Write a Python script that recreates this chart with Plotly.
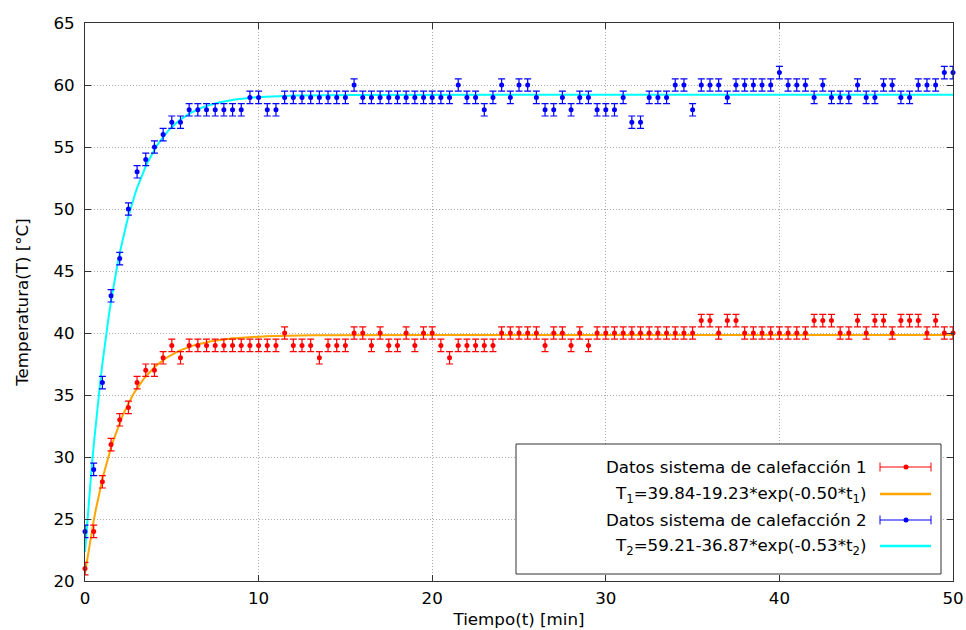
import numpy as np
import plotly.graph_objects as go

# ---------------- data ----------------
t = [i * 0.5 for i in range(101)]

temp1 = [21, 24, 28, 31, 33, 34, 36, 37, 37, 38,
         39, 38, 39, 39, 39, 39, 39, 39, 39, 39,
         39, 39, 39, 40, 39, 39, 39, 38, 39, 39,
         39, 40, 40, 39, 40, 39, 39, 40, 39, 40,
         40, 39, 38, 39, 39, 39, 39, 39, 40, 40,
         40, 40, 40, 39, 40, 40, 39, 40, 39, 40,
         40, 40, 40, 40, 40, 40, 40, 40, 40, 40,
         40, 41, 41, 40, 41, 41, 40, 40, 40, 40,
         40, 40, 40, 40, 41, 41, 41, 40, 40, 41,
         40, 41, 41, 40, 41, 41, 41, 40, 41, 40,
         40]

temp2 = [24, 29, 36, 43, 46, 50, 53, 54, 55, 56,
         57, 57, 58, 58, 58, 58, 58, 58, 58, 59,
         59, 58, 58, 59, 59, 59, 59, 59, 59, 59,
         59, 60, 59, 59, 59, 59, 59, 59, 59, 59,
         59, 59, 59, 60, 59, 59, 58, 59, 60, 59,
         60, 60, 59, 58, 58, 59, 58, 59, 59, 58,
         58, 58, 59, 57, 57, 59, 59, 59, 60, 60,
         58, 60, 60, 60, 59, 60, 60, 60, 60, 60,
         61, 60, 60, 60, 59, 60, 59, 59, 59, 60,
         59, 59, 60, 60, 59, 59, 60, 60, 60, 61,
         61]

err = 0.5

# fitted parameters shown in the legend
fit1 = (39.84, 19.23, 0.50)
fit2 = (59.21, 36.87, 0.53)

x_ticks = [0, 10, 20, 30, 40, 50]
y_ticks = [20, 25, 30, 35, 40, 45, 50, 55, 60, 65]

names = ["Datos sistema de calefacción 1",
         "T<sub>1</sub>=39.84-19.23*exp(-0.50*t<sub>1</sub>)",
         "Datos sistema de calefacción 2",
         "T<sub>2</sub>=59.21-36.87*exp(-0.53*t<sub>2</sub>)"]

# ---------------- figure ----------------
FONT = "DejaVu Sans"
FS = 16.7
tf = np.linspace(0, 50, 400)

fig = go.Figure()

def fit_curve(p):
    a, b, k = p
    return a - b * np.exp(-k * tf)

fig.add_trace(go.Scatter(x=tf, y=fit_curve(fit1), mode="lines",
                         line=dict(color="#ffa500", width=2), name=names[1],
                         showlegend=False))
fig.add_trace(go.Scatter(x=tf, y=fit_curve(fit2), mode="lines",
                         line=dict(color="#00ffff", width=2), name=names[3],
                         showlegend=False))

for y, col, nm in [(temp1, "#ff0000", names[0]), (temp2, "#0000ff", names[2])]:
    fig.add_trace(go.Scatter(
        x=t, y=y, mode="markers", name=nm, showlegend=False,
        marker=dict(color=col, size=5, symbol="circle"),
        error_y=dict(type="constant", value=err, color=col, thickness=1.2, width=3.5),
        cliponaxis=False))

# ---------------- custom gnuplot-like key ----------------
L, R, T, B = 85, 953, 23, 581

def px2paper_x(px):
    return (px - L) / (R - L)

def py2paper_y(py):
    return (B - py) / (B - T)

shapes = []
annotations = []
shapes.append(dict(type="rect", xref="paper", yref="paper",
                   x0=px2paper_x(516), x1=px2paper_x(941),
                   y0=py2paper_y(574), y1=py2paper_y(444),
                   line=dict(color="#333333", width=1), fillcolor="white", layer="above"))

rows = [467, 494, 520, 546]
row_cols = ["#ff0000", "#ffa500", "#0000ff", "#00ffff"]
sx0, sx1, sxm = px2paper_x(880), px2paper_x(931), px2paper_x(906)
for i, (ry, c) in enumerate(zip(rows, row_cols)):
    yy = py2paper_y(ry)
    annotations.append(dict(text=names[i], xref="paper", yref="paper",
                            x=px2paper_x(869), y=yy, xanchor="right", yanchor="middle",
                            showarrow=False, font=dict(family=FONT, size=FS, color="black")))
    if i in (0, 2):
        shapes.append(dict(type="line", xref="paper", yref="paper", x0=sx0, x1=sx1,
                           y0=yy, y1=yy, line=dict(color=c, width=1), layer="above"))
        for xx in (sx0, sx1):
            shapes.append(dict(type="line", xref="paper", yref="paper", x0=xx, x1=xx,
                               y0=yy - 0.008, y1=yy + 0.008,
                               line=dict(color=c, width=1), layer="above"))
        dy = 2.5 / (B - T)
        dx = 2.5 / (R - L)
        shapes.append(dict(type="circle", xref="paper", yref="paper",
                           x0=sxm - dx, x1=sxm + dx, y0=yy - dy, y1=yy + dy,
                           line=dict(color=c, width=0), fillcolor=c, layer="above"))
    else:
        shapes.append(dict(type="line", xref="paper", yref="paper", x0=sx0, x1=sx1,
                           y0=yy, y1=yy, line=dict(color=c, width=2.5), layer="above"))

axis_common = dict(
    showline=True, linecolor="#333333", linewidth=1, mirror="ticks",
    ticks="inside", ticklen=6, tickcolor="#333333", tickwidth=1,
    showgrid=True, gridcolor="#aaaaaa", griddash="1px,2px", gridwidth=1,
    zeroline=False, automargin=False,
    tickfont=dict(family=FONT, size=FS, color="black"),
)

fig.update_layout(
    width=966, height=630,
    margin=dict(l=L, r=966 - R, t=T, b=630 - B),
    paper_bgcolor="white", plot_bgcolor="white",
    font=dict(family=FONT, size=FS, color="black"),
    xaxis=dict(range=[0, 50], tickvals=x_ticks,
               title=dict(text="Tiempo(t) [min]", font=dict(family=FONT, size=FS), standoff=6),
               ticklabelstandoff=2, **axis_common),
    yaxis=dict(range=[20, 65], tickvals=y_ticks,
               title=dict(text="Temperatura(T) [°C]", font=dict(family=FONT, size=FS), standoff=20),
               ticklabelstandoff=6, **axis_common),
    shapes=shapes, annotations=annotations, showlegend=False,
)

fig.write_html("out.html", config={"displayModeBar": False},
               post_script="document.body.style.margin='0px';document.body.style.padding='0px';")
